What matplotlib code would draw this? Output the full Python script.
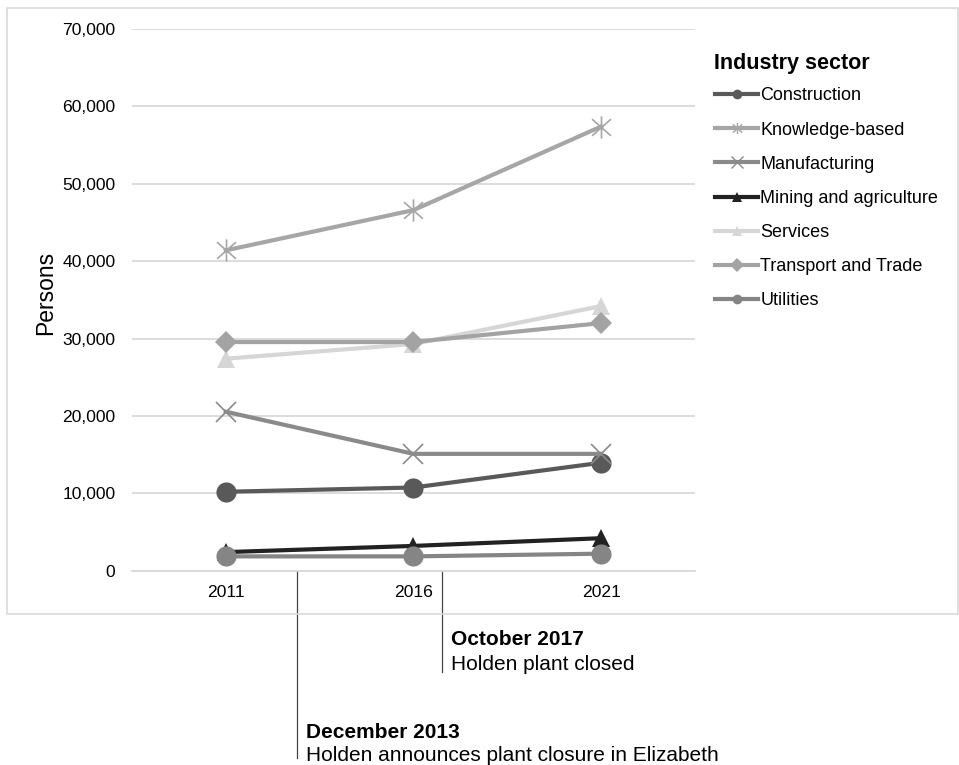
import matplotlib.pyplot as plt
import matplotlib.transforms as mtransforms
from matplotlib.lines import Line2D
from matplotlib.patches import Rectangle
from matplotlib.path import Path

plt.rcParams['font.family'] = ['Liberation Sans', 'DejaVu Sans']

# 数据
years = ['2011', '2016', '2021']
construction = [10200, 10750, 13950]
knowledge_based = [41400, 46600, 57400]
manufacturing = [20550, 15100, 15100]
mining_agriculture = [2400, 3200, 4200]
services = [27400, 29300, 34200]
transport_trade = [29550, 29550, 32000]
utilities = [1850, 1850, 2200]

# 事件标注（x 为类别坐标）
events_x = [0.38, 1.15]
events_title = ['December 2013', 'October 2017']
events_text = ['Holden announces plant closure in Elizabeth', 'Holden plant closed']

# 星号标记：竖线 + 叉
asterisk = Path(
    [(0, -1), (0, 1), (-0.85, -0.75), (0.85, 0.75), (-0.85, 0.75), (0.85, -0.75)],
    [Path.MOVETO, Path.LINETO, Path.MOVETO, Path.LINETO, Path.MOVETO, Path.LINETO],
)

series = [
    ('Construction', construction, '#595959', 'o', 14.5),
    ('Knowledge-based', knowledge_based, '#a6a6a6', asterisk, 16),
    ('Manufacturing', manufacturing, '#8a8a8a', 'x', 15),
    ('Mining and agriculture', mining_agriculture, '#222222', '^', 13),
    ('Services', services, '#d6d6d6', '^', 13),
    ('Transport and Trade', transport_trade, '#a3a3a3', 'D', 11),
    ('Utilities', utilities, '#858585', 'o', 14.5),
]

fig = plt.figure(figsize=(9.59, 7.65), dpi=100)
ax = fig.add_axes([0.1376, 0.254, 0.587, 0.708])

x = list(range(len(years)))
handles = []
for name, vals, color, marker, ms in series:
    is_line_marker = marker in ('x',) or marker is asterisk
    ax.plot(x, vals, color=color, linewidth=3, marker=marker, markersize=ms,
            markeredgewidth=1.2 if is_line_marker else 0,
            markerfacecolor=color, markeredgecolor=color, zorder=3)
    handles.append(Line2D([], [], color=color, linewidth=3, marker=marker,
                          markersize=7 if not is_line_marker else 8,
                          markeredgewidth=1 if is_line_marker else 0,
                          markerfacecolor=color, markeredgecolor=color))

ax.set_xlim(-0.5, 2.5)
ax.set_ylim(0, 70000)
ax.set_xticks(x)
ax.set_xticklabels(years)
ax.set_yticks(range(0, 70001, 10000))
ax.set_yticklabels([f'{v:,}' for v in range(0, 70001, 10000)])
ax.tick_params(axis='both', length=0, labelsize=12.6, colors='#000000')
ax.tick_params(axis='y', pad=12)
ax.tick_params(axis='x', pad=10)
ax.grid(axis='y', color='#d9d9d9', linewidth=1.3)
ax.set_axisbelow(True)
for side in ['top', 'right', 'left']:
    ax.spines[side].set_visible(False)
ax.spines['bottom'].set_color('#d9d9d9')
ax.spines['bottom'].set_linewidth(1.3)
ax.set_ylabel('Persons', fontsize=16.5)
ax.yaxis.set_label_coords(-0.133, 0.512)

# 外框
fig.patches.append(Rectangle((0.0073, 0.197), 0.9917, 0.7925, transform=fig.transFigure,
                             fill=False, edgecolor='#d9d9d9', linewidth=1.2))

# 图例
fig.text(0.7445, 1 - 64 / 765, 'Industry sector', fontsize=15.5, fontweight='bold',
         va='center', ha='left')
leg = fig.legend(handles, [s[0] for s in series], loc='upper left',
                 bbox_to_anchor=(0.729, 0.907), frameon=False, fontsize=13,
                 handlelength=2.35, handletextpad=0.15, labelspacing=0.95)

# 事件线与文字
trans = mtransforms.blended_transform_factory(ax.transData, fig.transFigure)
line_bottoms = [0.009, 0.122]
title_y = [0.043, 0.164]
text_y = [0.013, 0.132]
for ex, lb, ty, sy, title, txt in zip(events_x, line_bottoms, title_y, text_y,
                                       events_title, events_text):
    ax.plot([ex, ex], [0.254, lb], transform=trans, color='#444444', linewidth=0.9,
            clip_on=False)
    ax.text(ex + 0.05, ty, title, transform=trans, fontsize=15, fontweight='bold',
            va='center', ha='left')
    ax.text(ex + 0.05, sy, txt, transform=trans, fontsize=15,
            va='center', ha='left')

fig.savefig('out.png', dpi=100)
